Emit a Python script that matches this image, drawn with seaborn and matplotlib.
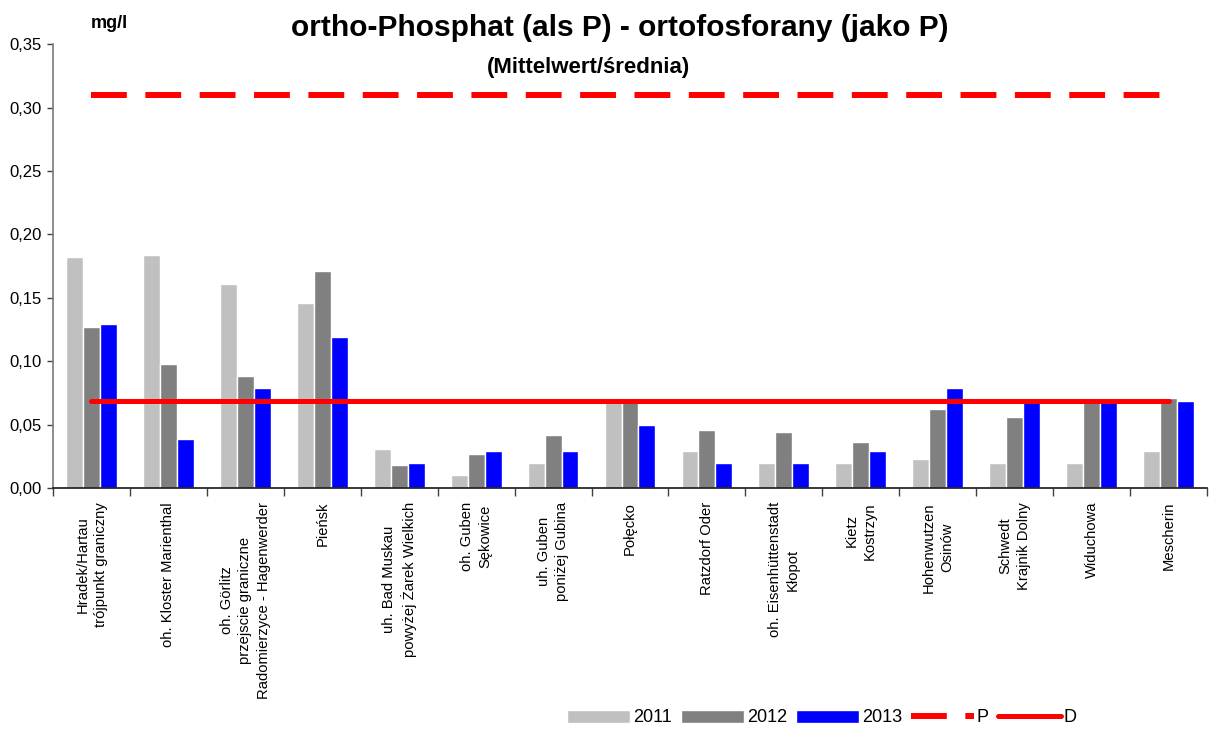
import pandas as pd
import numpy as np
import matplotlib

matplotlib.use("Agg")
import matplotlib.pyplot as plt
import seaborn as sns
from matplotlib.lines import Line2D
from matplotlib.ticker import FuncFormatter, FixedLocator

# ==========================================
# Dane
# ==========================================
stations = [
    "Hradek/Hartau\ntrójpunkt graniczny",
    "oh. Kloster Marienthal",
    "oh. Görlitz\nprzejscie graniczne\nRadomierzyce - Hagenwerder",
    "Pieńsk",
    "uh. Bad Muskau\npowyżej Żarek Wielkich",
    "oh. Guben\nSękowice",
    "uh. Guben\nponiżej Gubina",
    "Połęcko",
    "Ratzdorf Oder",
    "oh. Eisenhüttenstadt\nKłopot",
    "Kietz\nKostrzyn",
    "Hohenwutzen\nOsinów",
    "Schwedt\nKrajnik Dolny",
    "Widuchowa",
    "Mescherin",
]
years = ["2011", "2012", "2013"]
v2011 = [0.182, 0.184, 0.161, 0.146, 0.031, 0.010, 0.020, 0.068, 0.029, 0.020, 0.020, 0.023, 0.020, 0.020, 0.029]
v2012 = [0.127, 0.098, 0.088, 0.171, 0.018, 0.027, 0.042, 0.071, 0.046, 0.044, 0.036, 0.062, 0.056, 0.068, 0.071]
v2013 = [0.129, 0.039, 0.079, 0.119, 0.020, 0.029, 0.029, 0.050, 0.020, 0.020, 0.029, 0.079, 0.068, 0.069, 0.069]
P_LIMIT = 0.31
D_LIMIT = 0.069

colors = ["#C0C0C0", "#808080", "#0000FF"]
RED = "#FF0000"

df = pd.DataFrame(
    {
        "station": stations * 3,
        "year": [y for y in years for _ in stations],
        "value": v2011 + v2012 + v2013,
    }
)

sns.set_theme(style="white")
plt.rcParams["font.family"] = ["Liberation Sans", "DejaVu Sans"]
plt.rcParams["text.color"] = "black"
plt.rcParams["xtick.color"] = "black"
plt.rcParams["ytick.color"] = "black"

fig = plt.figure(figsize=(12.26, 7.29), dpi=100)
ax = fig.add_axes([53 / 1226, 1 - 488 / 729, (1207 - 53) / 1226, (488 - 44.3) / 729])

sns.barplot(
    data=df,
    x="station",
    y="value",
    hue="year",
    palette=colors,
    saturation=1,
    width=0.66,
    ax=ax,
)
bar_handles, bar_labels = ax.get_legend_handles_labels()
if ax.get_legend() is not None:
    ax.get_legend().remove()

# linie P (przerywana) i D (ciągła) od środka pierwszej do ostatniej kategorii
n = len(stations)
ax.plot([0, n - 1], [P_LIMIT, P_LIMIT], color=RED, lw=4.3,
        linestyle=(0, (6.0, 3.1)), dash_capstyle="butt", zorder=5)
ax.plot([0, n - 1], [D_LIMIT, D_LIMIT], color=RED, lw=3.6,
        solid_capstyle="round", zorder=5)

ax.set_xlim(-0.5, n - 0.5)
ax.set_ylim(0, 0.35)
ax.set_yticks(np.arange(0, 0.351, 0.05))
ax.yaxis.set_major_formatter(FuncFormatter(lambda v, _: f"{v:.2f}".replace(".", ",")))
ax.set_xlabel("")
ax.set_ylabel("")

for s in ["top", "right"]:
    ax.spines[s].set_visible(False)
ax.spines["left"].set_color("#808080")
ax.spines["bottom"].set_color("#202020")

ax.tick_params(axis="y", which="major", left=True, length=4, width=1,
               color="#404040", labelsize=12, pad=4, labelcolor="black")
ax.tick_params(axis="x", which="major", bottom=True, length=0, pad=10,
               labelsize=10.6, labelcolor="black")
ax.xaxis.set_minor_locator(FixedLocator(np.arange(-0.5, n, 1.0)))
ax.tick_params(axis="x", which="minor", bottom=True, length=6, width=1, color="#404040")

for lbl in ax.get_xticklabels():
    lbl.set_rotation(90)
    lbl.set_ha("center")
    lbl.set_va("top")
    lbl.set_multialignment("center")
    lbl.set_linespacing(1.4)

# tytuły
fig.text(620 / 1226, 1 - 28 / 729, "ortho-Phosphat (als P) - ortofosforany (jako P)",
         ha="center", va="center", fontsize=21.5, fontweight="bold", color="black")
fig.text(588 / 1226, 1 - 68 / 729, "(Mittelwert/średnia)",
         ha="center", va="center", fontsize=16, fontweight="bold", color="black")
fig.text(109 / 1226, 1 - 24 / 729, "mg/l", ha="center", va="center",
         fontsize=13, fontweight="bold", color="black")

# legenda
line_handles = [
    Line2D([], [], color=RED, lw=4.3, linestyle=(0, (6.0, 3.1)), dash_capstyle="butt"),
    Line2D([], [], color=RED, lw=3.6, solid_capstyle="round"),
]
leg = fig.legend(
    bar_handles + line_handles,
    list(bar_labels) + ["P", "D"],
    loc="center",
    bbox_to_anchor=(822 / 1226, 1 - 718 / 729),
    ncol=5,
    frameon=False,
    fontsize=13,
    handlelength=3.5,
    handleheight=0.75,
    handletextpad=0.15,
    columnspacing=0.5,
    borderpad=0,
)
for t in leg.get_texts():
    t.set_color("black")

fig.savefig("out.png", dpi=100)
